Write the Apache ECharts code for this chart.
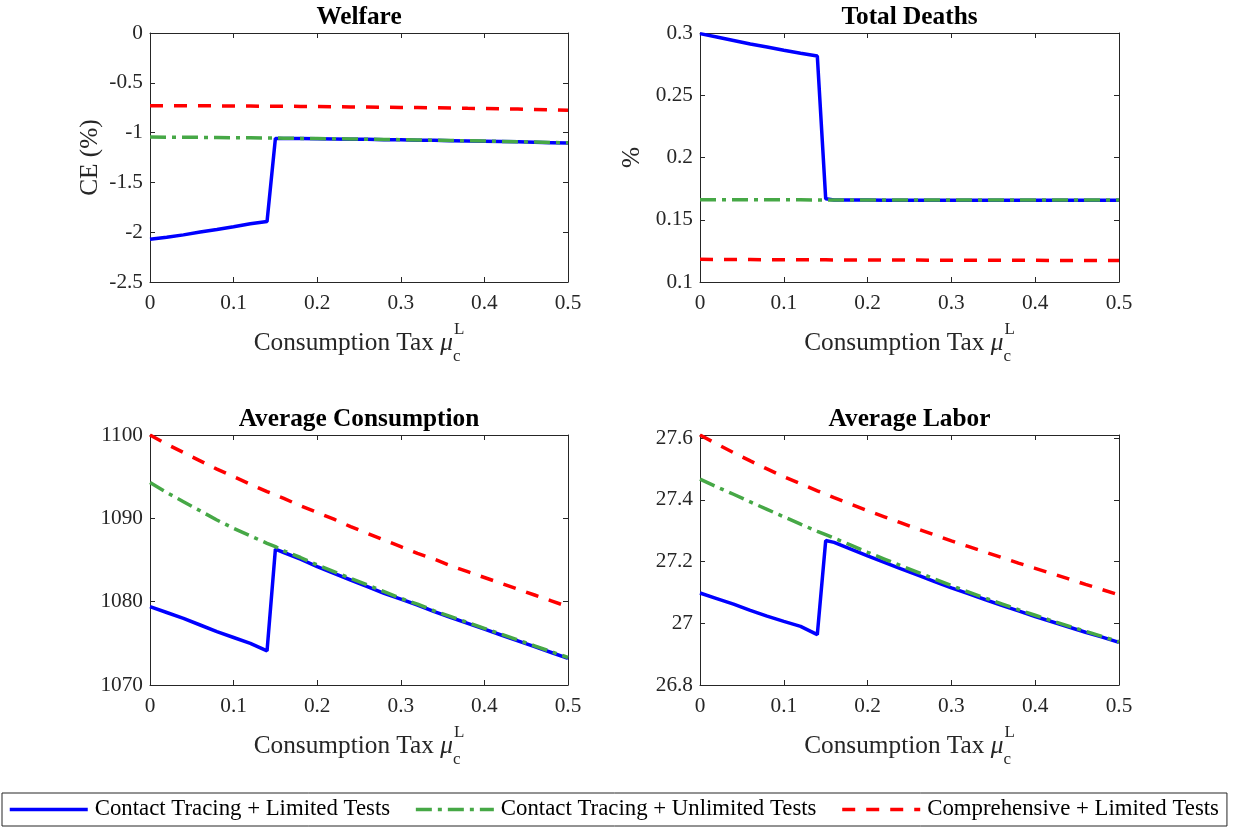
<!DOCTYPE html>
<html><head><meta charset="utf-8">
<script src="https://cdn.jsdelivr.net/npm/echarts@6/dist/echarts.min.js"></script>
<style>html,body{margin:0;padding:0;background:#fff;}#c{width:1236px;height:831px;}</style>
</head><body><div id="c"></div>
<script>
// ---------------- data ----------------
const xs = [0,0.02,0.04,0.06,0.08,0.1,0.12,0.14,0.15,0.16,0.18,0.2,0.22,0.24,0.26,0.28,0.3,0.32,0.34,0.36,0.38,0.4,0.42,0.44,0.46,0.48,0.5];

const seriesNames = ['Contact Tracing + Limited Tests','Contact Tracing + Unlimited Tests','Comprehensive + Limited Tests'];
const panelTitles = ['Welfare','Total Deaths','Average Consumption','Average Labor'];
const yAxisNames = ['CE (%)','%','',''];

// Welfare (CE %)
const welfareBlue  = [-2.070,-2.050,-2.027,-1.998,-1.972,-1.945,-1.915,-1.893,-1.058,-1.058,-1.060,-1.062,-1.064,-1.066,-1.068,-1.071,-1.073,-1.076,-1.078,-1.081,-1.084,-1.087,-1.090,-1.093,-1.097,-1.101,-1.105];
const welfareGreen = [-1.045,-1.046,-1.047,-1.048,-1.049,-1.051,-1.052,-1.054,-1.055,-1.056,-1.058,-1.060,-1.062,-1.064,-1.066,-1.069,-1.071,-1.074,-1.076,-1.079,-1.082,-1.085,-1.088,-1.091,-1.095,-1.099,-1.103];
const welfareRed   = [-0.730,-0.730,-0.731,-0.731,-0.732,-0.733,-0.734,-0.735,-0.735,-0.736,-0.737,-0.739,-0.740,-0.742,-0.743,-0.745,-0.747,-0.749,-0.751,-0.753,-0.756,-0.758,-0.761,-0.764,-0.768,-0.772,-0.776];

// Total deaths (%)
const deathsBlue  = [0.2995,0.2968,0.2940,0.2912,0.2888,0.2862,0.2838,0.2815,0.1668,0.1658,0.1658,0.1658,0.1657,0.1657,0.1657,0.1657,0.1657,0.1657,0.1657,0.1657,0.1657,0.1657,0.1657,0.1657,0.1657,0.1657,0.1657];
const deathsGreen = [0.1661,0.1661,0.1661,0.1660,0.1660,0.1660,0.1660,0.1659,0.1659,0.1659,0.1659,0.1659,0.1658,0.1658,0.1658,0.1658,0.1658,0.1658,0.1658,0.1658,0.1658,0.1658,0.1658,0.1658,0.1658,0.1658,0.1658];
const deathsRed   = [0.1182,0.1181,0.1180,0.1180,0.1179,0.1179,0.1178,0.1178,0.1178,0.1177,0.1177,0.1177,0.1176,0.1176,0.1176,0.1175,0.1175,0.1175,0.1174,0.1174,0.1174,0.1174,0.1173,0.1173,0.1173,0.1172,0.1172];

// Average consumption
const consBlue  = [1079.4,1078.7,1078.0,1077.2,1076.4,1075.7,1075.0,1074.1,1086.3,1085.9,1085.1,1084.2,1083.4,1082.6,1081.8,1081.0,1080.3,1079.6,1078.8,1078.1,1077.4,1076.7,1076.0,1075.3,1074.6,1073.9,1073.2];
const consGreen = [1094.3,1093.1,1092.0,1090.9,1089.8,1088.8,1087.9,1087.0,1086.6,1086.1,1085.3,1084.4,1083.6,1082.8,1082.0,1081.2,1080.4,1079.7,1078.9,1078.2,1077.5,1076.8,1076.1,1075.4,1074.7,1074.0,1073.3];
const consRed   = [1100.0,1098.9,1097.9,1096.9,1095.9,1095.0,1094.1,1093.2,1092.8,1092.4,1091.5,1090.7,1089.9,1089.0,1088.2,1087.4,1086.6,1085.8,1085.1,1084.3,1083.6,1082.9,1082.2,1081.5,1080.8,1080.1,1079.4];

// Average labor
const laborBlue  = [27.098,27.080,27.062,27.042,27.023,27.006,26.990,26.963,27.268,27.262,27.240,27.218,27.197,27.176,27.156,27.135,27.115,27.096,27.077,27.058,27.040,27.022,27.005,26.988,26.971,26.955,26.938];
const laborGreen = [27.467,27.442,27.418,27.393,27.369,27.345,27.321,27.298,27.287,27.276,27.253,27.230,27.208,27.186,27.165,27.143,27.122,27.102,27.082,27.063,27.044,27.026,27.008,26.991,26.974,26.957,26.940];
const laborRed   = [27.610,27.581,27.553,27.526,27.500,27.475,27.452,27.429,27.418,27.407,27.386,27.365,27.345,27.325,27.305,27.286,27.267,27.249,27.231,27.213,27.195,27.178,27.161,27.144,27.126,27.109,27.092];

// axis ranges
const xMin = 0, xMax = 0.5, xStep = 0.1;
const yMins  = [-2.5, 0.1, 1070, 26.8];
const yMaxs  = [0, 0.3, 1100, 27.61];
const ySteps = [0.5, 0.05, 10, 0.2];

const panelData = [
  [welfareBlue, welfareGreen, welfareRed],
  [deathsBlue, deathsGreen, deathsRed],
  [consBlue, consGreen, consRed],
  [laborBlue, laborGreen, laborRed]
];

// ---------------- styling ----------------
const FONT = "'Liberation Serif','Times New Roman',serif";
const AX = '#262626';
const colors = ['#0000FF', '#46A846', '#FF0000'];
const dashes = ['solid', [16, 6, 4, 6], [13, 11]];
const gridPos = [
  {left: 150, top: 33,  width: 418, height: 249},
  {left: 700, top: 33,  width: 419, height: 249},
  {left: 150, top: 435, width: 418, height: 250},
  {left: 700, top: 435, width: 419, height: 250}
];

function fmt(min, step) {
  return function (v) {
    const k = (v - min) / step;
    if (Math.abs(k - Math.round(k)) > 1e-6) return '';
    return String(parseFloat(Number(v).toFixed(4)));
  };
}

const xNameRich = {
  m:   {fontFamily: FONT, fontSize: 25.3, lineHeight: 44, color: '#262626', align: 'left'},
  mu:  {fontFamily: FONT, fontSize: 25.3, lineHeight: 44, color: '#262626', fontStyle: 'italic', align: 'left'},
  sub: {fontFamily: FONT, fontSize: 17, lineHeight: 15, verticalAlign: 'bottom', color: '#262626', width: 1, align: 'left'},
  sup: {fontFamily: FONT, fontSize: 17, lineHeight: 25, verticalAlign: 'top', color: '#262626', align: 'left'}
};

const grids = [], xAxes = [], yAxes = [], series = [];
for (let p = 0; p < 4; p++) {
  grids.push(Object.assign({containLabel: false}, gridPos[p]));
  const tick = {show: true, inside: true, length: 5, lineStyle: {color: AX, width: 1}};
  const line = {show: true, onZero: false, lineStyle: {color: AX, width: 1}};
  // bottom x axis
  xAxes.push({
    type: 'value', gridIndex: p, position: 'bottom', min: xMin, max: xMax, interval: xStep,
    axisLine: line, axisTick: tick, splitLine: {show: false},
    axisLabel: {fontFamily: FONT, fontSize: 21.3, color: AX, margin: 11, formatter: fmt(xMin, xStep)},
    name: '{m|Consumption Tax }{mu|μ}{sub|c}{sup|L}', nameLocation: 'middle', nameGap: 39,
    nameTextStyle: {rich: xNameRich}
  });
  // top x axis (box + title)
  xAxes.push({
    type: 'value', gridIndex: p, position: 'top', min: xMin, max: xMax, interval: xStep,
    axisLine: line, axisTick: tick, splitLine: {show: false}, axisLabel: {show: false},
    name: panelTitles[p], nameLocation: 'middle', nameGap: 3,
    nameTextStyle: {fontFamily: FONT, fontSize: 25.3, fontWeight: 'bold', color: '#000'}
  });
  // left y axis
  yAxes.push({
    type: 'value', gridIndex: p, position: 'left', min: yMins[p], max: yMaxs[p], interval: ySteps[p],
    axisLine: line, axisTick: tick, splitLine: {show: false},
    axisLabel: {fontFamily: FONT, fontSize: 21.3, color: AX, margin: 7, formatter: fmt(yMins[p], ySteps[p])},
    name: yAxisNames[p], nameLocation: 'middle', nameGap: p === 0 ? 47 : 55,
    nameTextStyle: {fontFamily: FONT, fontSize: 25.3, color: AX}
  });
  // right y axis (box)
  yAxes.push({
    type: 'value', gridIndex: p, position: 'right', min: yMins[p], max: yMaxs[p], interval: ySteps[p],
    axisLine: line, axisTick: tick, splitLine: {show: false}, axisLabel: {show: false}
  });
  for (let s = 0; s < 3; s++) {
    series.push({
      name: seriesNames[s], type: 'line', xAxisIndex: 2 * p, yAxisIndex: 2 * p,
      data: xs.map((x, i) => [x, panelData[p][s][i]]),
      symbol: 'none', showSymbol: false, smooth: false, clip: true,
      color: colors[s],
      lineStyle: {color: colors[s], width: 3.5, type: dashes[s], cap: 'butt'},
      z: 2 + s, animation: false
    });
  }
}

const chart = echarts.init(document.getElementById('c'), null, {renderer: 'canvas'});
chart.setOption({
  backgroundColor: '#fff',
  animation: false,
  grid: grids,
  xAxis: xAxes,
  yAxis: yAxes,
  legend: {
    data: seriesNames,
    left: 2, top: 793,
    orient: 'horizontal',
    padding: [5, 8, 5, 6],
    itemWidth: 78, itemHeight: 20, itemGap: 24,
    itemStyle: {opacity: 0},
    lineStyle: {width: 3.5},
    borderColor: AX, borderWidth: 1, backgroundColor: '#fff',
    textStyle: {fontFamily: FONT, fontSize: 22.8, color: '#000', padding: [0, 0, 0, 2]}
  },
  series: series
});
</script>
</body></html>
